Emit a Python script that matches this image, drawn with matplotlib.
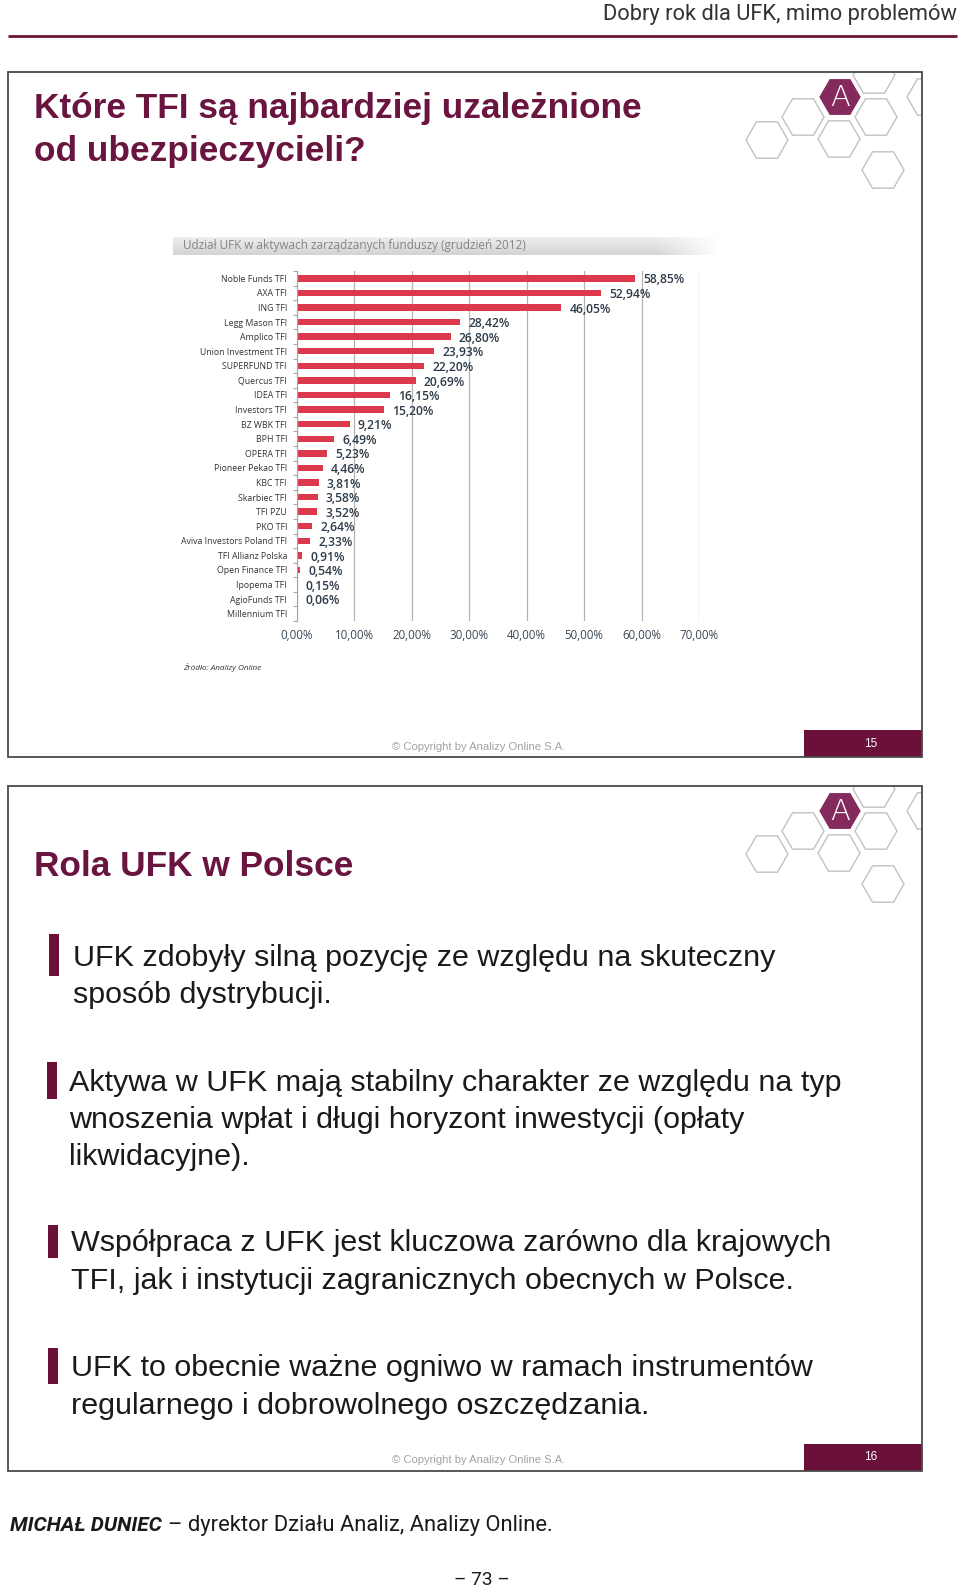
import matplotlib
matplotlib.use('Agg')
import matplotlib.pyplot as plt
from matplotlib import font_manager as fm
from matplotlib.patches import Rectangle, RegularPolygon
import numpy as np

# ---------------- data ----------------
companies = ["Noble Funds TFI", "AXA TFI", "ING TFI", "Legg Mason TFI", "Amplico TFI",
             "Union Investment TFI", "SUPERFUND TFI", "Quercus TFI", "IDEA TFI",
             "Investors TFI", "BZ WBK TFI", "BPH TFI", "OPERA TFI", "Pioneer Pekao TFI",
             "KBC TFI", "Skarbiec TFI", "TFI PZU", "PKO TFI", "Aviva Investors Poland TFI",
             "TFI Allianz Polska", "Open Finance TFI", "Ipopema TFI", "AgioFunds TFI",
             "Millennium TFI"]
values = [58.85, 52.94, 46.05, 28.42, 26.80, 23.93, 22.20, 20.69, 16.15, 15.20, 9.21,
          6.49, 5.23, 4.46, 3.81, 3.58, 3.52, 2.64, 2.33, 0.91, 0.54, 0.15, 0.06, 0.0]
x_ticks = [0, 10, 20, 30, 40, 50, 60, 70]
x_tick_labels = ["0,00%", "10,00%", "20,00%", "30,00%", "40,00%", "50,00%", "60,00%", "70,00%"]

header_text = "Dobry rok dla UFK, mimo problemów"
title1 = ["Które TFI są najbardziej uzależnione", "od ubezpieczycieli?"]
chart_title = "Udział UFK w aktywach zarządzanych funduszy (grudzień 2012)"
source_text = "Źródło: Analizy Online"
copyright_text = "© Copyright by Analizy Online S.A."
title2 = "Rola UFK w Polsce"
bullets = [
    ["UFK zdobyły silną pozycję ze względu na skuteczny", "sposób dystrybucji."],
    ["Aktywa w UFK mają stabilny charakter ze względu na typ",
     "wnoszenia wpłat i długi horyzont inwestycji (opłaty", "likwidacyjne)."],
    ["Współpraca z UFK jest kluczowa zarówno dla krajowych",
     "TFI, jak i instytucji zagranicznych obecnych w Polsce."],
    ["UFK to obecnie ważne ogniwo w ramach instrumentów",
     "regularnego i dobrowolnego oszczędzania."],
]
footer_name = "MICHAŁ DUNIEC"
footer_rest = "– dyrektor Działu Analiz, Analizy Online."
page_no = "– 73 –"

# ---------------- styles ----------------
MAROON = "#6a1440"
HEXM = "#842a5c"
PAGEBOX = "#6b1139"
BAR = "#dc3a4c"
names = {f.name for f in fm.fontManager.ttflist}
NARROW = "Liberation Sans Narrow" if "Liberation Sans Narrow" in names else "Roboto"
ARIAL = "Liberation Sans"

fig = plt.figure(figsize=(9.6, 15.91), dpi=100)
ov = fig.add_axes([0, 0, 1, 1])
ov.set_xlim(0, 960)
ov.set_ylim(1591, 0)
ov.axis('off')
R = fig.canvas.get_renderer()


def fit(t, width):
    w = t.get_window_extent(R).width
    t.set_fontsize(t.get_fontsize() * width / w)
    return t


# header
fit(ov.text(957, 20, header_text, ha='right', va='baseline', color='#333333',
            family=NARROW, fontsize=14), 356)
ov.plot([8, 957], [35.5, 35.5], color='#6b1436', lw=2.0, solid_capstyle='butt')

# slide boxes
for top in (72, 786):
    box = Rectangle((8, top), 914, 685, fill=False, ec='#4a4a4a', lw=1.3, zorder=5)
    ov.add_patch(box)
    clip = Rectangle((8, top), 914, 685, transform=ov.transData)
    dy = top - 72
    greys = [(874, 75), (928, 97), (803, 117), (876, 117), (767, 140), (839, 139), (883, 170)]
    for cx, cy in greys:
        h = RegularPolygon((cx, cy + dy), 6, radius=21, orientation=np.pi / 6,
                           fill=False, ec='#c2c2c2', lw=1.0)
        ov.add_patch(h)
        h.set_clip_path(clip)
    ov.add_patch(RegularPolygon((840, 97 + dy), 6, radius=21.5, orientation=np.pi / 6,
                                fc=HEXM, ec='white', lw=1.0, zorder=3))
    ov.text(840, 98 + dy, "A", color='white', ha='center', va='center', fontsize=21,
            family='DejaVu Sans', fontweight='light', zorder=4)
    # page number box
    ov.add_patch(Rectangle((804, top + 658), 118, 27, fc=PAGEBOX, ec='none', zorder=4))

ov.text(871, 744, "15", color='white', ha='center', va='center', fontsize=8.5, family=ARIAL, zorder=6)
ov.text(871, 1457, "16", color='white', ha='center', va='center', fontsize=8.5, family=ARIAL, zorder=6)
for yy in (747, 1460):
    fit(ov.text(479, yy, copyright_text, ha='center', va='center', color='#a3a3a3',
                family=ARIAL, fontsize=8), 175)

# slide 1 title
t = fit(ov.text(33.5, 118, title1[0], ha='left', va='baseline', color=MAROON,
                family=ARIAL, fontweight='bold', fontsize=24), 610)
ov.text(33.5, 161.5, title1[1], ha='left', va='baseline', color=MAROON,
        family=ARIAL, fontweight='bold', fontsize=t.get_fontsize())

# chart title gradient bar
gh, gw = 20, 300
v = np.linspace(0, 1, gh)[:, None]
u = np.linspace(0, 1, gw)[None, :]
base = 0.93 - 0.10 * v
fade = np.clip((u - 0.88) / 0.12, 0, 1)
val = base * (1 - fade) + 1.0 * fade
img = np.dstack([val, val, val])
ov.imshow(img, extent=[172.5, 720.5, 254.7, 237.5], aspect='auto', zorder=1)
ov.set_xlim(0, 960)
ov.set_ylim(1591, 0)
fit(ov.text(183, 246, chart_title, ha='left', va='center', color='#858585',
            family='Open Sans', fontsize=9, zorder=2), 347)
fit(ov.text(183, 668, source_text, ha='left', va='center', color='#333333',
            family='Open Sans', fontstyle='italic', fontsize=5), 79)

# slide 2 title
fit(ov.text(33.5, 876, title2, ha='left', va='baseline', color=MAROON,
            family=ARIAL, fontweight='bold', fontsize=24), 320)

# bullets
bullet_bars = [(48.7, 934, 976), (46.7, 1062, 1099), (47.7, 1225, 1258), (47.7, 1348, 1384)]
bullet_x = [73, 69, 71, 71]
bullet_base = [[966, 1002.6], [1091, 1127.5, 1165], [1251, 1289], [1376, 1413.5]]
first_widths = [701, 772, 759, 741]
sizes = []
for lines, w in zip(bullets, first_widths):
    tt = ov.text(0, -100, lines[0], family=ARIAL, fontsize=20)
    fit(tt, w)
    sizes.append(tt.get_fontsize())
    tt.remove()
bsize = float(np.mean(sizes))
for (bx, y0, y1), tx, bases, lines in zip(bullet_bars, bullet_x, bullet_base, bullets):
    ov.add_patch(Rectangle((bx, y0), 10.2, y1 - y0, fc=PAGEBOX, ec='none'))
    for yb, ln in zip(bases, lines):
        ov.text(tx, yb, ln, ha='left', va='baseline', color='#1a1a1a', family=ARIAL, fontsize=bsize)

# footer
fit(ov.text(10, 1531, footer_name, ha='left', va='baseline', color='#1a1a1a', family=NARROW,
            fontweight='bold', fontstyle='italic', fontsize=14), 152)
fit(ov.text(167.5, 1531, footer_rest, ha='left', va='baseline', color='#1a1a1a', family=NARROW,
            fontsize=14), 388)
fit(ov.text(482, 1580, page_no, ha='center', va='center', color='#1a1a1a', family=NARROW,
            fontsize=12), 56)

# ---------------- bar chart ----------------
axc = fig.add_axes([297 / 960, 1 - 621 / 1591, 402 / 960, 350 / 1591])
axc.patch.set_alpha(0)
yp = np.arange(len(companies))
axc.barh(yp, values, height=0.44, color=BAR, zorder=3)
axc.set_xlim(0, 70)
axc.set_ylim(len(companies) - 0.5, -0.5)
axc.set_xticks(x_ticks)
axc.set_xticklabels(x_tick_labels, family='Open Sans', fontsize=8.3, color='#3b4756')
axc.xaxis.grid(True, color='#b3b3b3', lw=0.9)
axc.set_axisbelow(True)
for s in ['top', 'right', 'bottom']:
    axc.spines[s].set_visible(False)
axc.spines['left'].set_color('#a6a6a6')
axc.spines['left'].set_zorder(4)
axc.set_yticks(yp)
axc.set_yticklabels(companies, family='Open Sans', fontsize=6.3, color='#333333')
axc.tick_params(axis='y', which='major', length=0, pad=7.2)
axc.set_yticks(np.arange(len(companies) + 1) - 0.5, minor=True)
axc.tick_params(axis='y', which='minor', length=3, color='#a6a6a6', width=0.8)
axc.tick_params(axis='x', length=0, pad=6)
for i, vv in enumerate(values):
    if vv > 0:
        axc.annotate(f"{vv:.2f}".replace('.', ',') + "%", (vv, i), xytext=(5.8, -1.2),
                     textcoords='offset points', ha='left', va='center', fontsize=8.7,
                     fontweight='semibold', color='#2d3a48', family='Open Sans', zorder=5)

fig.savefig("out.png", dpi=100, facecolor='white')
